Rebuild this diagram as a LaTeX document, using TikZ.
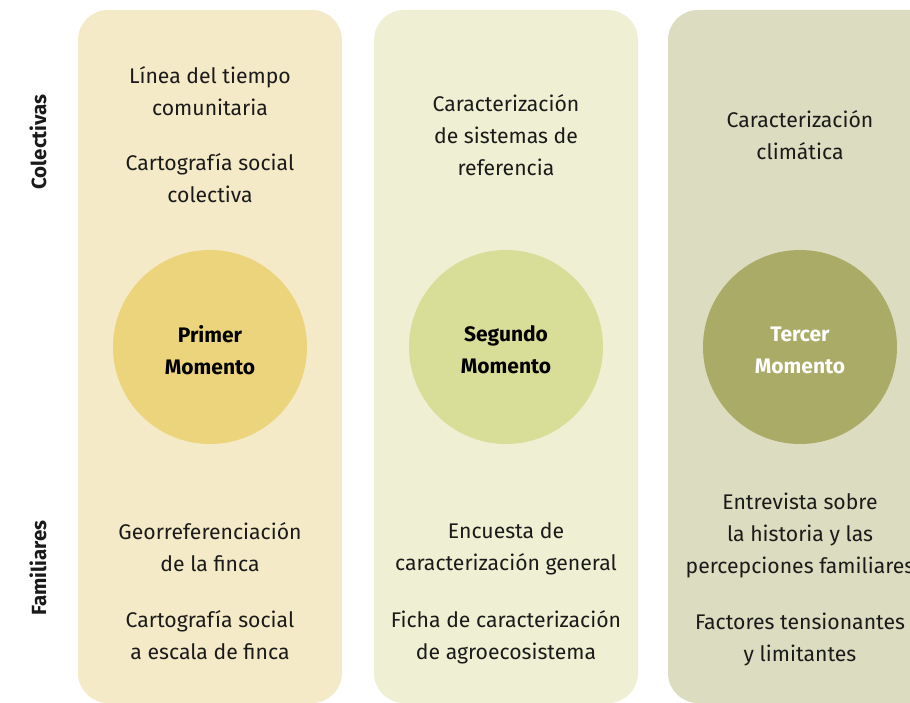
\documentclass[tikz,border=0pt]{standalone}
\usepackage{fontspec}
\setmainfont{Fira Sans}
\definecolor{boxA}{HTML}{F5EAC8}
\definecolor{boxB}{HTML}{EFF0D3}
\definecolor{boxC}{HTML}{DCDCC0}
\definecolor{circA}{HTML}{EBD47C}
\definecolor{circB}{HTML}{D8DE97}
\definecolor{circC}{HTML}{ABAB68}
\definecolor{ink}{HTML}{1A1A1A}
\tikzset{
  colbox/.style={rounded corners=30pt},
  momtext/.style={align=center, inner sep=0pt, font=\fontsize{21}{32}\selectfont\bfseries},
  item/.style={align=center, text=ink, inner sep=0pt, font=\fontsize{21.2}{32}\selectfont},
  side/.style={rotate=90, text=ink, inner sep=0pt, font=\fontsize{20.5}{24}\selectfont\bfseries}
}
\begin{document}
\begin{tikzpicture}[x=1pt,y=-1pt]
\useasboundingbox (0,0) rectangle (910,703);
\clip (0,0) rectangle (910,703);
\fill[white] (0,0) rectangle (910,703);
% columns
\fill[boxA,colbox] (78,10) rectangle (342,703);
\fill[boxB,colbox] (374,10) rectangle (638,703);
\fill[boxC,colbox] (668,10) rectangle (960,703);
% circles
\node[circle, minimum size=194pt, fill=circA] (m1) at (210,347) {};
\node[circle, minimum size=194pt, fill=circB] (m2) at (506,347) {};
\node[circle, minimum size=194pt, fill=circC] (m3) at (800,347) {};
\node[momtext, text=black] (t1) at (210,350) {Primer\\Momento};
\node[momtext, text=black] (t2) at (506,350) {Segundo\\Momento};
\node[momtext, text=white] (t3) at (800,350) {Tercer\\Momento};
% side labels
\node[side] (lc) at (38,142) {Colectivas};
\node[side] (lf) at (38,568) {Familiares};
% column 1
\node[item] (a1) at (210,91) {Línea del tiempo\\comunitaria};
\node[item] (a2) at (210,178) {Cartografía social\\colectiva};
\node[item] (a3) at (210,547) {Georreferenciación\\de la finca};
\node[item] (a4) at (210,635) {Cartografía social\\a escala de finca};
% column 2
\node[item] (b1) at (506,135) {Caracterización\\de sistemas de\\referencia};
\node[item] (b2) at (506,549) {Encuesta de\\caracterización general};
\node[item] (b3) at (506,637) {Ficha de caracterización\\de agroecosistema};
% column 3
\node[item] (c1) at (800,135) {Caracterización\\climática};
\node[item] (c2) at (800,535) {Entrevista sobre\\la historia y las\\percepciones familiares};
\node[item] (c3) at (800,639) {Factores tensionantes\\y limitantes};
\end{tikzpicture}
\end{document}
